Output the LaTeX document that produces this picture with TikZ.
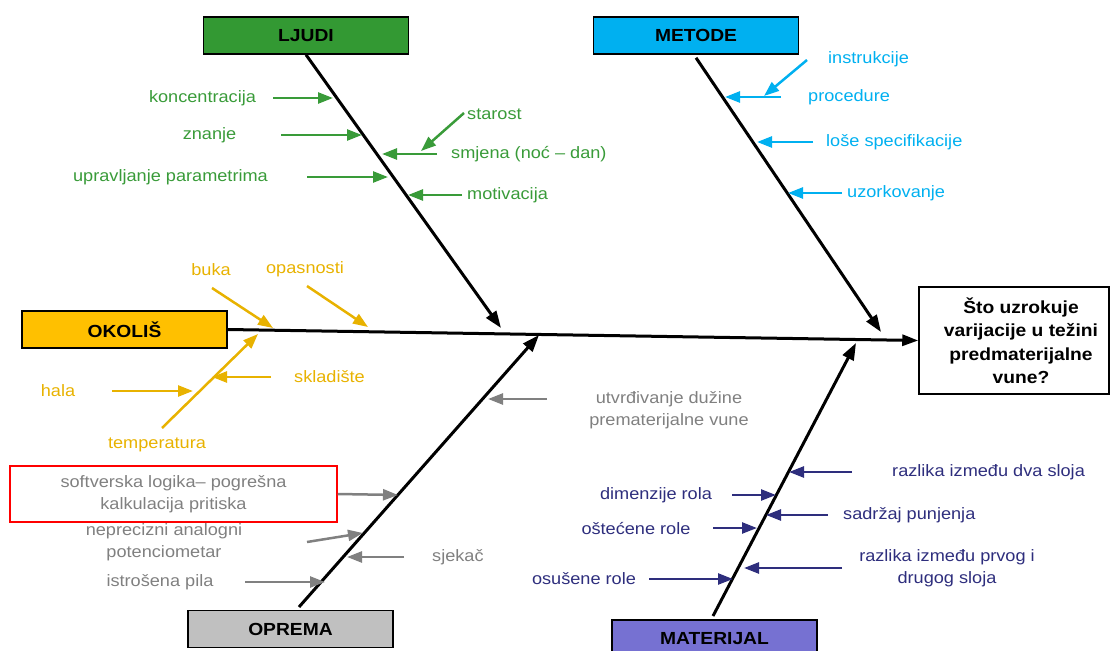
\documentclass[tikz,border=0pt]{standalone}
\usepackage{fontspec}
\setmainfont{Liberation Sans}[FakeStretch=1.1]
\usetikzlibrary{arrows.meta}
\definecolor{cgreen}{RGB}{57,155,57}
\definecolor{boxgreen}{RGB}{51,153,51}
\definecolor{ccyan}{RGB}{0,176,240}
\definecolor{corange}{RGB}{232,178,0}
\definecolor{boxorange}{RGB}{255,192,0}
\definecolor{cgray}{RGB}{128,128,128}
\definecolor{boxgray}{RGB}{192,192,192}
\definecolor{cnavy}{RGB}{46,46,125}
\definecolor{boxviolet}{RGB}{118,113,210}
\begin{document}
\begin{tikzpicture}[x=1pt,y=-1pt,
  lbl/.style={inner sep=0pt,font=\fontsize{16.5}{22}\selectfont,align=center},
  catbox/.style={draw=black,line width=1.5pt,minimum width=205pt,minimum height=37pt,inner sep=0pt,
                 font=\fontsize{17.5}{21}\selectfont\bfseries},
  bone/.style={line width=3pt,-{Triangle[length=17pt,width=12pt]}},
  cause/.style={line width=2.5pt,-{Triangle[length=15pt,width=11pt]}},
]
\useasboundingbox (0,0) rectangle (1110,650);

% ---------- category boxes and effect ----------
\node[catbox,fill=boxgreen] (ljudi) at (306,35.5) {LJUDI};
\node[catbox,fill=ccyan] (metode) at (696,35.5) {METODE};
\node[catbox,fill=boxorange] (okolis) at (124.5,329.5) {OKOLIŠ};
\node[catbox,fill=boxgray] (oprema) at (290.5,629) {OPREMA};
\node[catbox,fill=boxviolet] (materijal) at (714.5,638.5) {MATERIJAL};
\node[draw=black,line width=1.5pt,minimum width=190pt,minimum height=107pt,inner sep=0pt,
      label={[font=\fontsize{17.5}{23.5}\selectfont\bfseries,align=center,xshift=7pt]center:{Što uzrokuje\\varijacije u težini\\predmaterijalne\\vune?}}]
      (effect) at (1014,340.5) {};

% ---------- spine and bones ----------
\draw[bone,-{Triangle[length=16pt,width=11pt]}] (okolis.east) -- (effect.west);
\coordinate (ljT) at (501,328);
\coordinate (meT) at (881,332);
\coordinate (opS) at (299,607);
\coordinate (opT) at (539,335);
\coordinate (maS) at (713,616);
\coordinate (maT) at (856,343);
\draw[bone] (ljudi.south) -- (ljT);
\draw[bone] (metode.south) ++(0,3) coordinate (meS) -- (meT);
\draw[bone] (opS) -- (opT);
\draw[bone] (maS) -- (maT);

% ---------- LJUDI (green) ----------
\begin{scope}[every node/.style={lbl,text=cgreen},cause/.append style={draw=cgreen}]
\node (t1) at (202.5,98) {koncentracija};
\node (t2) at (209.5,135) {znanje};
\node (t3) at (170.5,177) {upravljanje parametrima};
\node[anchor=west] (t4) at (467,114) {starost};
\node[anchor=west] (t5) at (451,154) {smjena (noć – dan)};
\node[anchor=west] (t6) at (467,195) {motivacija};
\coordinate (a1) at (273,98);  \coordinate (b1) at (333,98);
\coordinate (a2) at (281,135); \coordinate (b2) at (362,135);
\coordinate (a3) at (307,177); \coordinate (b3) at (388,177);
\coordinate (a4) at (464,113); \coordinate (b4) at (421,151);
\coordinate (a5) at (437,154); \coordinate (b5) at (382,154);
\coordinate (a6) at (462,195); \coordinate (b6) at (408,195);
\foreach \i in {1,...,6} {\draw[cause] (a\i) -- (b\i);}
\end{scope}

% ---------- METODE (cyan) ----------
\begin{scope}[every node/.style={lbl,text=ccyan},cause/.append style={draw=ccyan}]
\node[anchor=west] (m1) at (828,59) {instrukcije};
\node[anchor=west] (m2) at (808,97) {procedure};
\node[anchor=west] (m3) at (826,142) {loše specifikacije};
\node[anchor=west] (m4) at (847,193) {uzorkovanje};
\coordinate (ma1) at (807,60);  \coordinate (mb1) at (764,96);
\coordinate (ma2) at (781,97);  \coordinate (mb2) at (725,97);
\coordinate (ma3) at (813,142); \coordinate (mb3) at (757,142);
\coordinate (ma4) at (842,193); \coordinate (mb4) at (788,193);
\foreach \i in {1,...,4} {\draw[cause] (ma\i) -- (mb\i);}
\end{scope}

% ---------- OKOLIŠ (orange) ----------
\begin{scope}[every node/.style={lbl,text=corange},cause/.append style={draw=corange}]
\node (o1) at (211,270) {buka};
\node (o2) at (305,269) {opasnosti};
\node (o3) at (157,445) {temperatura};
\node[anchor=west] (o4) at (294,377) {skladište};
\node (o5) at (58,391) {hala};
\coordinate (oa1) at (212,288); \coordinate (ob1) at (273,328);
\coordinate (oa2) at (307,286); \coordinate (ob2) at (368,327);
\coordinate (oa3) at (162,428); \coordinate (ob3) at (258,334);
\coordinate (oa4) at (271,377); \coordinate (ob4) at (212,377);
\coordinate (oa5) at (112,391); \coordinate (ob5) at (193,391);
\foreach \i in {1,...,5} {\draw[cause] (oa\i) -- (ob\i);}
\end{scope}

% ---------- OPREMA (gray) ----------
\begin{scope}[every node/.style={lbl,text=cgray},cause/.append style={draw=cgray}]
\node (p1) at (669,410.5) {utvrđivanje dužine\\prematerijalne vune};
\node[draw=red,line width=1.5pt,minimum width=327pt,minimum height=56pt] (p2) at (173.5,494)
      {softverska logika– pogrešna\\kalkulacija pritiska};
\node (p3) at (164,542.5) {neprecizni analogni\\potenciometar};
\node[anchor=west] (p4) at (432,557) {sjekač};
\node (p5) at (160,582) {istrošena pila};
\coordinate (pa1) at (547,399); \coordinate (pb1) at (488,399);
\coordinate (pb2) at (398,495);
\coordinate (pa3) at (307,542); \coordinate (pb3) at (363,533);
\coordinate (pa4) at (404,557); \coordinate (pb4) at (347,557);
\coordinate (pa5) at (245,582); \coordinate (pb5) at (325,582);
\draw[cause] (pa1) -- (pb1);
\draw[cause] (p2.east) -- (pb2);
\draw[cause] (pa3) -- (pb3);
\draw[cause] (pa4) -- (pb4);
\draw[cause] (pa5) -- (pb5);
\end{scope}

% ---------- MATERIJAL (navy) ----------
\begin{scope}[every node/.style={lbl,text=cnavy},cause/.append style={draw=cnavy}]
\node[anchor=west] (n1) at (892,472) {razlika između dva sloja};
\node (n2) at (656,495) {dimenzije rola};
\node[anchor=west] (n3) at (843,515) {sadržaj punjenja};
\node (n4) at (636,528) {oštećene role};
\node (n5) at (947,568) {razlika između prvog i\\drugog sloja};
\node (n6) at (584,579) {osušene role};
\coordinate (na1) at (852,472); \coordinate (nb1) at (789,472);
\coordinate (na2) at (732,495); \coordinate (nb2) at (776,495);
\coordinate (na3) at (828,515); \coordinate (nb3) at (766,515);
\coordinate (na4) at (713,528); \coordinate (nb4) at (757,528);
\coordinate (na5) at (842,568); \coordinate (nb5) at (744,568);
\coordinate (na6) at (649,579); \coordinate (nb6) at (733,579);
\foreach \i in {1,...,6} {\draw[cause] (na\i) -- (nb\i);}
\end{scope}
\end{tikzpicture}
\end{document}
